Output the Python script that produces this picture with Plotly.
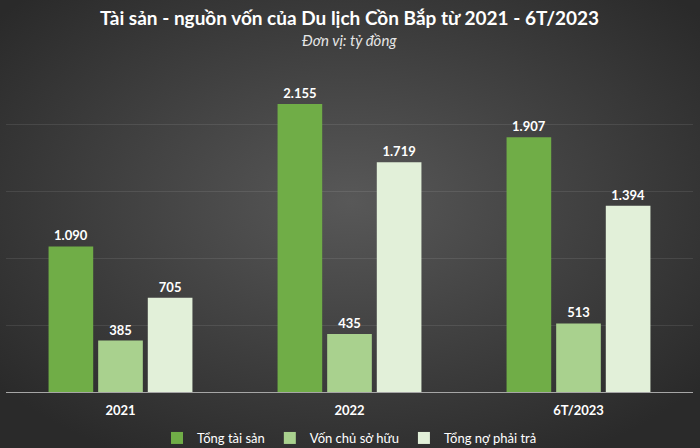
import base64
import plotly.graph_objects as go

# Data (tỷ đồng)
periods = ["2021", "2022", "6T/2023"]
tong_tai_san = [1090, 2155, 1907]
von_chu_so_huu = [385, 435, 513]
tong_no_phai_tra = [705, 1719, 1394]

series_names = ["Tổng tài sản", "Vốn chủ sở hữu", "Tổng nợ phải trả"]
series_colors = ["#70AD47", "#A9D18E", "#E2F0D9"]


def fmt_vn(v):
    # Vietnamese thousands separator is a dot
    return f"{v:,}".replace(",", ".")


# radial gradient background like the Excel chart style
svg = (
    "<svg xmlns='http://www.w3.org/2000/svg' width='700' height='448'>"
    "<defs><radialGradient id='g' cx='50%' cy='45%' r='65%'>"
    "<stop offset='0%' stop-color='#585858'/>"
    "<stop offset='100%' stop-color='#2a2a2a'/>"
    "</radialGradient></defs>"
    "<rect width='700' height='448' fill='url(#g)'/></svg>"
)
bg_src = "data:image/svg+xml;base64," + base64.b64encode(svg.encode()).decode()

fig = go.Figure()

for name, vals, color in zip(series_names,
                             [tong_tai_san, von_chu_so_huu, tong_no_phai_tra],
                             series_colors):
    fig.add_trace(go.Bar(
        x=periods, y=vals, name=name,
        marker=dict(color=color, line=dict(width=0)),
        text=[fmt_vn(v) for v in vals],
        textposition="outside",
        outsidetextfont=dict(color="white", size=13, family="Lato"),
        texttemplate="<b>%{text}</b>",
        cliponaxis=False,
    ))

fig.update_layout(
    width=700, height=448,
    margin=dict(l=6, r=7, t=58, b=56, autoexpand=False),
    paper_bgcolor="#3a3a3a",
    plot_bgcolor="rgba(0,0,0,0)",
    images=[dict(source=bg_src, xref="paper", yref="paper",
                 x=-6 / 687, y=1 + 58 / 334, sizex=700 / 687, sizey=448 / 334,
                 xanchor="left", yanchor="top", sizing="stretch", layer="below")],
    barmode="group",
    bargap=0.35,
    bargroupgap=0.1,
    font=dict(family="Lato", color="white"),
    annotations=[
        dict(text="<b>Tài sản - nguồn vốn của Du lịch Cồn Bắp từ 2021 - 6T/2023</b>",
             xref="paper", yref="paper", x=0.5, y=1 + 40 / 334,
             xanchor="center", yanchor="middle", showarrow=False,
             font=dict(size=19, color="white", family="Lato")),
        dict(text="<i>Đơn vị: tỷ đồng</i>",
             xref="paper", yref="paper", x=0.5, y=1 + 18 / 334,
             xanchor="center", yanchor="middle", showarrow=False,
             font=dict(size=15, color="#e6e6e6", family="Lato")),
    ],
    legend=dict(
        orientation="h", x=0.5, xanchor="center", y=-31 / 334, yanchor="top",
        font=dict(size=13, color="white"),
        bgcolor="rgba(0,0,0,0)",
        traceorder="normal",
        itemwidth=30, tracegroupgap=0,
    ),
    showlegend=True,
)

fig.update_xaxes(
    showline=True, linecolor="#a6a6a6", linewidth=1,
    ticks="", tickfont=dict(size=13, color="white"),
    tickprefix="<b>", ticksuffix="</b>",
    ticklabelstandoff=6,
)
fig.update_yaxes(
    range=[0, 2500], dtick=500,
    showticklabels=False,
    showgrid=True, gridcolor="rgba(255,255,255,0.09)", gridwidth=1,
    zeroline=False,
)

# drop the default page margin so the chart sits at the window's corner
fig.write_html("out.html", config={"displayModeBar": False},
               post_script="document.body.style.margin='0';")
